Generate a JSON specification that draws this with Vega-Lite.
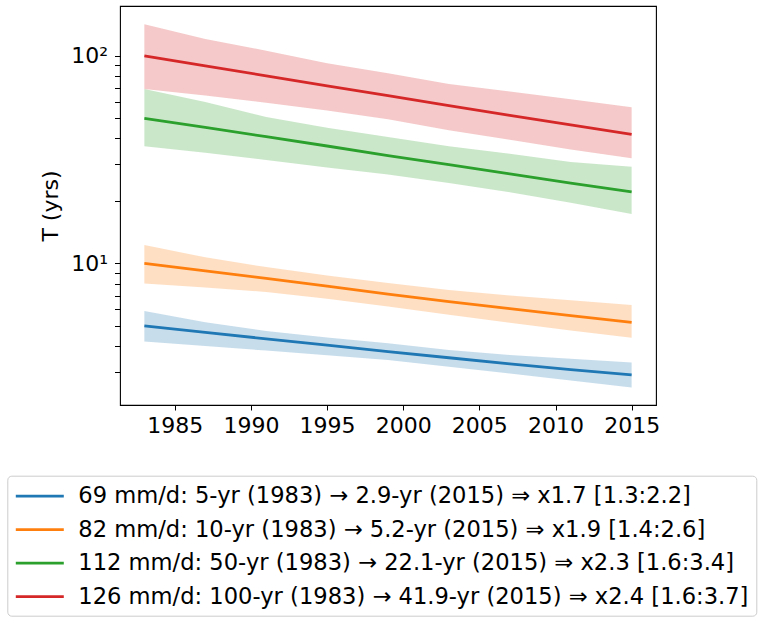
{
  "$schema": "https://vega.github.io/schema/vega-lite/v6.json",
  "width": 536,
  "height": 399,
  "autosize": {"type": "none"},
  "padding": {"left": 120, "top": 6, "right": 105, "bottom": 212},
  "background": "white",
  "config": {"view": {"stroke": "black", "strokeWidth": 1.1}, "font": "DejaVu Sans"},
  "data": {"values": [
    {"s": "69 mm/d: 5-yr (1983) → 2.9-yr (2015) ⇒ x1.7 [1.3:2.2]", "year": 1983, "T": 5.0, "lo": 4.2, "hi": 5.89},
    {"s": "69 mm/d: 5-yr (1983) → 2.9-yr (2015) ⇒ x1.7 [1.3:2.2]", "year": 1987, "T": 4.65, "lo": 4.0, "hi": 5.2},
    {"s": "69 mm/d: 5-yr (1983) → 2.9-yr (2015) ⇒ x1.7 [1.3:2.2]", "year": 1991, "T": 4.33, "lo": 3.8, "hi": 4.72},
    {"s": "69 mm/d: 5-yr (1983) → 2.9-yr (2015) ⇒ x1.7 [1.3:2.2]", "year": 1995, "T": 4.04, "lo": 3.61, "hi": 4.4},
    {"s": "69 mm/d: 5-yr (1983) → 2.9-yr (2015) ⇒ x1.7 [1.3:2.2]", "year": 1999, "T": 3.76, "lo": 3.42, "hi": 4.12},
    {"s": "69 mm/d: 5-yr (1983) → 2.9-yr (2015) ⇒ x1.7 [1.3:2.2]", "year": 2003, "T": 3.51, "lo": 3.18, "hi": 3.83},
    {"s": "69 mm/d: 5-yr (1983) → 2.9-yr (2015) ⇒ x1.7 [1.3:2.2]", "year": 2007, "T": 3.28, "lo": 2.95, "hi": 3.62},
    {"s": "69 mm/d: 5-yr (1983) → 2.9-yr (2015) ⇒ x1.7 [1.3:2.2]", "year": 2011, "T": 3.08, "lo": 2.73, "hi": 3.47},
    {"s": "69 mm/d: 5-yr (1983) → 2.9-yr (2015) ⇒ x1.7 [1.3:2.2]", "year": 2015, "T": 2.9, "lo": 2.52, "hi": 3.33},
    {"s": "82 mm/d: 10-yr (1983) → 5.2-yr (2015) ⇒ x1.9 [1.4:2.6]", "year": 1983, "T": 10.0, "lo": 8.0, "hi": 12.25},
    {"s": "82 mm/d: 10-yr (1983) → 5.2-yr (2015) ⇒ x1.9 [1.4:2.6]", "year": 1987, "T": 9.2, "lo": 7.65, "hi": 10.7},
    {"s": "82 mm/d: 10-yr (1983) → 5.2-yr (2015) ⇒ x1.9 [1.4:2.6]", "year": 1991, "T": 8.47, "lo": 7.29, "hi": 9.6},
    {"s": "82 mm/d: 10-yr (1983) → 5.2-yr (2015) ⇒ x1.9 [1.4:2.6]", "year": 1995, "T": 7.78, "lo": 6.75, "hi": 8.75},
    {"s": "82 mm/d: 10-yr (1983) → 5.2-yr (2015) ⇒ x1.9 [1.4:2.6]", "year": 1999, "T": 7.12, "lo": 6.2, "hi": 8.05},
    {"s": "82 mm/d: 10-yr (1983) → 5.2-yr (2015) ⇒ x1.9 [1.4:2.6]", "year": 2003, "T": 6.55, "lo": 5.65, "hi": 7.45},
    {"s": "82 mm/d: 10-yr (1983) → 5.2-yr (2015) ⇒ x1.9 [1.4:2.6]", "year": 2007, "T": 6.05, "lo": 5.18, "hi": 7.0},
    {"s": "82 mm/d: 10-yr (1983) → 5.2-yr (2015) ⇒ x1.9 [1.4:2.6]", "year": 2011, "T": 5.6, "lo": 4.75, "hi": 6.65},
    {"s": "82 mm/d: 10-yr (1983) → 5.2-yr (2015) ⇒ x1.9 [1.4:2.6]", "year": 2015, "T": 5.2, "lo": 4.38, "hi": 6.3},
    {"s": "112 mm/d: 50-yr (1983) → 22.1-yr (2015) ⇒ x2.3 [1.6:3.4]", "year": 1983, "T": 50.0, "lo": 36.7, "hi": 69.2},
    {"s": "112 mm/d: 50-yr (1983) → 22.1-yr (2015) ⇒ x2.3 [1.6:3.4]", "year": 1987, "T": 45.2, "lo": 34.1, "hi": 60.0},
    {"s": "112 mm/d: 50-yr (1983) → 22.1-yr (2015) ⇒ x2.3 [1.6:3.4]", "year": 1991, "T": 40.8, "lo": 31.5, "hi": 50.8},
    {"s": "112 mm/d: 50-yr (1983) → 22.1-yr (2015) ⇒ x2.3 [1.6:3.4]", "year": 1995, "T": 36.8, "lo": 29.0, "hi": 45.0},
    {"s": "112 mm/d: 50-yr (1983) → 22.1-yr (2015) ⇒ x2.3 [1.6:3.4]", "year": 1999, "T": 33.1, "lo": 26.8, "hi": 40.7},
    {"s": "112 mm/d: 50-yr (1983) → 22.1-yr (2015) ⇒ x2.3 [1.6:3.4]", "year": 2003, "T": 29.9, "lo": 24.4, "hi": 36.7},
    {"s": "112 mm/d: 50-yr (1983) → 22.1-yr (2015) ⇒ x2.3 [1.6:3.4]", "year": 2007, "T": 27.0, "lo": 22.0, "hi": 33.8},
    {"s": "112 mm/d: 50-yr (1983) → 22.1-yr (2015) ⇒ x2.3 [1.6:3.4]", "year": 2011, "T": 24.4, "lo": 19.6, "hi": 30.8},
    {"s": "112 mm/d: 50-yr (1983) → 22.1-yr (2015) ⇒ x2.3 [1.6:3.4]", "year": 2015, "T": 22.1, "lo": 17.3, "hi": 29.2},
    {"s": "126 mm/d: 100-yr (1983) → 41.9-yr (2015) ⇒ x2.4 [1.6:3.7]", "year": 1983, "T": 100.0, "lo": 69.2, "hi": 142.0},
    {"s": "126 mm/d: 100-yr (1983) → 41.9-yr (2015) ⇒ x2.4 [1.6:3.7]", "year": 1987, "T": 89.5, "lo": 64.4, "hi": 120.5},
    {"s": "126 mm/d: 100-yr (1983) → 41.9-yr (2015) ⇒ x2.4 [1.6:3.7]", "year": 1991, "T": 80.2, "lo": 59.5, "hi": 106.0},
    {"s": "126 mm/d: 100-yr (1983) → 41.9-yr (2015) ⇒ x2.4 [1.6:3.7]", "year": 1995, "T": 71.8, "lo": 54.5, "hi": 92.3},
    {"s": "126 mm/d: 100-yr (1983) → 41.9-yr (2015) ⇒ x2.4 [1.6:3.7]", "year": 1999, "T": 64.3, "lo": 49.5, "hi": 82.5},
    {"s": "126 mm/d: 100-yr (1983) → 41.9-yr (2015) ⇒ x2.4 [1.6:3.7]", "year": 2003, "T": 57.6, "lo": 43.8, "hi": 73.2},
    {"s": "126 mm/d: 100-yr (1983) → 41.9-yr (2015) ⇒ x2.4 [1.6:3.7]", "year": 2007, "T": 51.7, "lo": 39.4, "hi": 67.3},
    {"s": "126 mm/d: 100-yr (1983) → 41.9-yr (2015) ⇒ x2.4 [1.6:3.7]", "year": 2011, "T": 46.5, "lo": 35.4, "hi": 61.8},
    {"s": "126 mm/d: 100-yr (1983) → 41.9-yr (2015) ⇒ x2.4 [1.6:3.7]", "year": 2015, "T": 41.9, "lo": 32.1, "hi": 56.5}
  ]},
  "layer": [
    {
      "mark": {"type": "area", "fillOpacity": 0.25},
      "encoding": {
        "x": {"field": "year", "type": "quantitative", "scale": {"domain": [1981.4, 2016.6], "nice": false, "zero": false},
          "axis": {"title": null, "values": [1985, 1990, 1995, 2000, 2005, 2010, 2015], "format": "d", "labelFontSize": 22, "labelColor": "black", "tickColor": "black", "tickSize": 5, "tickWidth": 1, "labelPadding": 5, "domain": false, "grid": false, "labelFlush": false, "labelOverlap": false}},
        "y": {"field": "lo", "type": "quantitative", "scale": {"type": "log", "domain": [2.078, 174], "nice": false},
          "axis": {"title": "T (yrs)", "titleFontSize": 22, "titleFontWeight": "normal", "titleColor": "black", "titlePadding": 8,
            "values": [3, 4, 5, 6, 7, 8, 9, 10, 20, 30, 40, 50, 60, 70, 80, 90, 100],
            "labelExpr": "datum.value == 10 ? '10¹' : (datum.value == 100 ? '10²' : '')",
            "labelFontSize": 22, "labelColor": "black", "tickColor": "black", "tickSize": 5.5, "tickWidth": 1, "labelPadding": 7,
            "domain": false, "grid": false, "labelOverlap": false, "labelBound": false, "labelFlush": false,
            "encode": {"ticks": {"update": {"x2": {"signal": "(datum.value == 10 || datum.value == 100) ? -5.5 : -3"}}}}}},
        "y2": {"field": "hi"},
        "color": {"field": "s", "type": "nominal",
          "scale": {"domain": [
            "69 mm/d: 5-yr (1983) → 2.9-yr (2015) ⇒ x1.7 [1.3:2.2]",
            "82 mm/d: 10-yr (1983) → 5.2-yr (2015) ⇒ x1.9 [1.4:2.6]",
            "112 mm/d: 50-yr (1983) → 22.1-yr (2015) ⇒ x2.3 [1.6:3.4]",
            "126 mm/d: 100-yr (1983) → 41.9-yr (2015) ⇒ x2.4 [1.6:3.7]"],
            "range": ["#1f77b4", "#ff7f0e", "#2ca02c", "#d62728"]}}
      }
    },
    {
      "mark": {"type": "line", "strokeWidth": 2.8},
      "encoding": {
        "x": {"field": "year", "type": "quantitative"},
        "y": {"field": "T", "type": "quantitative"},
        "color": {"field": "s", "type": "nominal",
          "legend": {"orient": "none", "legendX": -112.7, "legendY": 469.7, "title": null,
            "symbolType": "M-2,0H2", "symbolSize": 576, "symbolStrokeWidth": 2.8, "symbolOffset": 12, "symbolOpacity": 1, "symbolFillColor": "transparent",
            "labelOffset": 25, "labelFontSize": 22.6, "labelFont": "DejaVu Sans", "labelColor": "black", "labelLimit": 0,
            "rowPadding": 7.5, "padding": 7, "strokeColor": "#cccccc", "fillColor": "white", "cornerRadius": 4,
            "encode": {"symbols": {"update": {"opacity": {"value": 1}, "strokeOpacity": {"value": 1}, "fillOpacity": {"value": 0}}}}}}
      }
    }
  ]
}
